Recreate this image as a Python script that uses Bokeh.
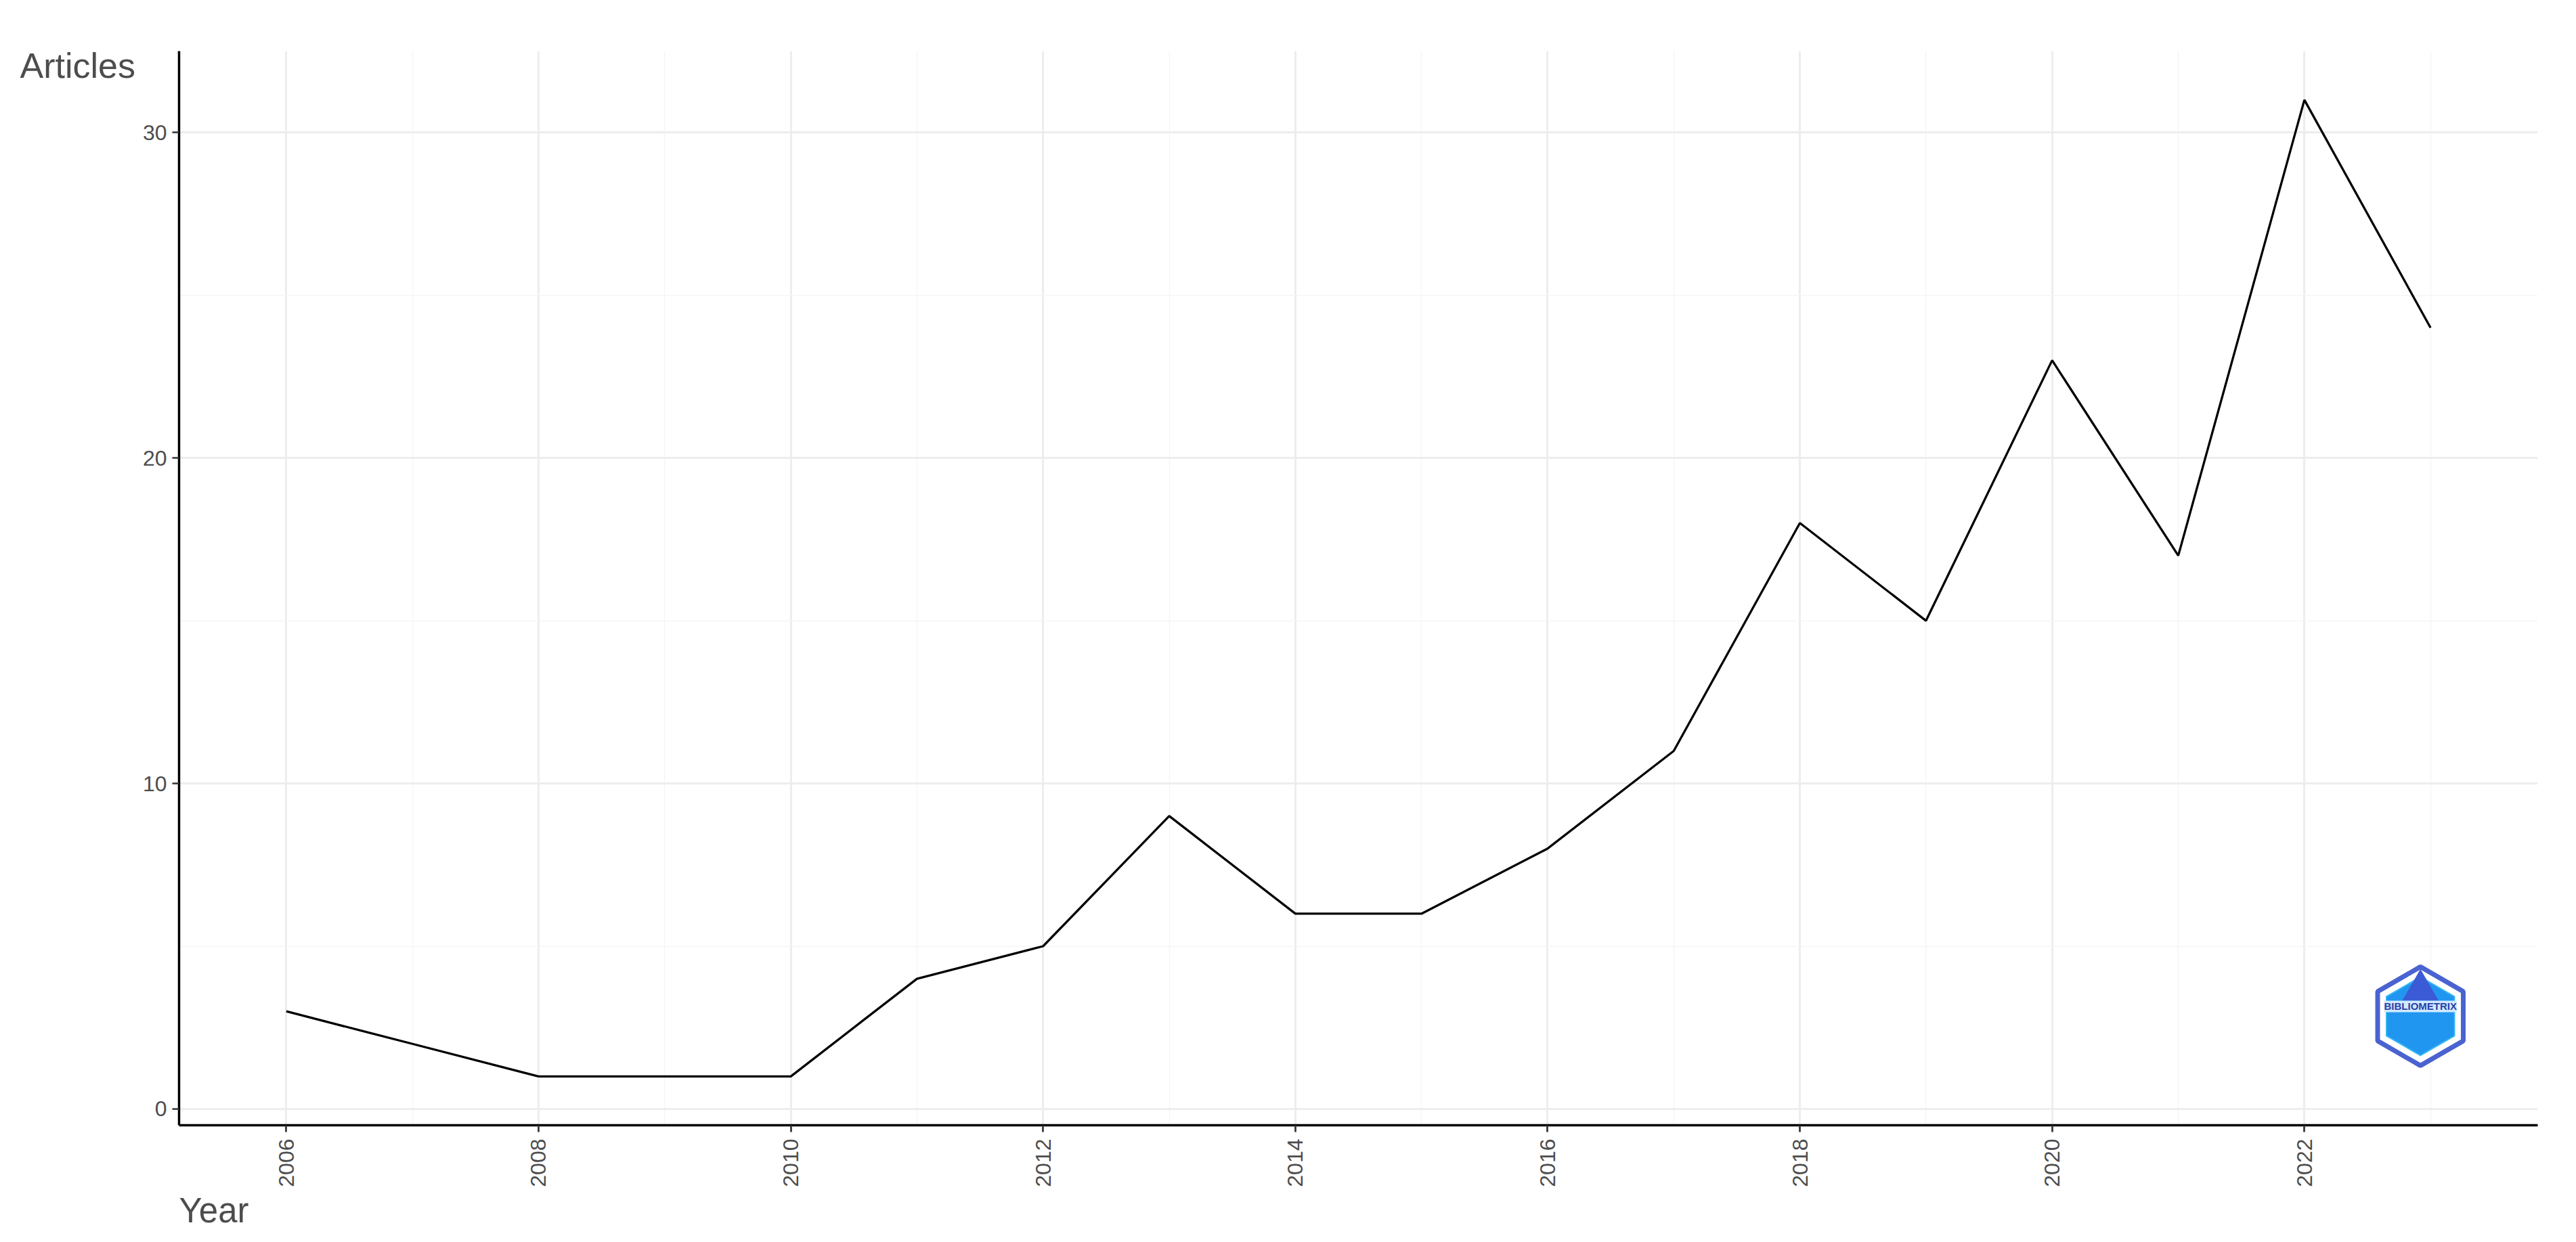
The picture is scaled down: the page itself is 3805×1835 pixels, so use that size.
import numpy as np
from bokeh.plotting import figure
from bokeh.models import Range1d, FixedTicker, Title, ColumnDataSource
from bokeh.embed import file_html
from bokeh.resources import INLINE
from bokeh.core.properties import value

years = [2006, 2007, 2008, 2009, 2010, 2011, 2012, 2013, 2014, 2015,
         2016, 2017, 2018, 2019, 2020, 2021, 2022, 2023]
articles = [3, 2, 1, 1, 1, 4, 5, 9, 6, 6, 8, 11, 18, 15, 23, 17, 31, 24]

x_major = [2006, 2008, 2010, 2012, 2014, 2016, 2018, 2020, 2022]
x_minor = [2005, 2007, 2009, 2011, 2013, 2015, 2017, 2019, 2021, 2023]
y_major = [0, 10, 20, 30]
y_minor = [5, 15, 25]

x_title = "Year"
y_title = "Articles"
logo_text = "BIBLIOMETRIX"

FONT = "Liberation Sans"
W, H = 3800, 1830

xspan = max(years) - min(years)
yspan = max(articles) - min(articles)
p = figure(width=W, height=H, output_backend="svg", toolbar_location=None,
           x_range=Range1d(min(years) - 0.05 * xspan, max(years) + 0.05 * xspan),
           y_range=Range1d(min(articles) - 0.05 * yspan, max(articles) + 0.05 * yspan),
           min_border_left=264, min_border_right=52, min_border_top=75, min_border_bottom=168)
p.outline_line_color = None
p.background_fill_color = "white"
p.border_fill_color = "white"

p.xaxis.ticker = FixedTicker(ticks=x_major, minor_ticks=x_minor)
p.yaxis.ticker = FixedTicker(ticks=y_major, minor_ticks=y_minor)

for ax in (p.xaxis[0], p.yaxis[0]):
    ax.axis_line_color = "black"
    ax.axis_line_width = 3.5
    ax.major_tick_line_color = "#333333"
    ax.major_tick_line_width = 2.7
    ax.major_tick_out = 10
    ax.major_tick_in = 0
    ax.minor_tick_line_color = None
    ax.major_label_text_font = FONT
    ax.major_label_text_color = "#4D4D4D"
    ax.major_label_text_font_size = "32px"
p.yaxis.major_label_standoff = 8
p.xaxis.major_label_standoff = 10
p.xaxis.major_label_orientation = np.pi / 2

for g in (p.xgrid[0], p.ygrid[0]):
    g.grid_line_color = "#EDEDED"
    g.grid_line_width = 3
    g.minor_grid_line_color = "#F5F5F5"
    g.minor_grid_line_width = 1.5

src = ColumnDataSource(dict(x=years, y=articles))
p.line("x", "y", source=src, line_color="black", line_width=3.3)

# logo (decoration)
LOGO_X, LOGO_Y = 2022.92, 2.85
p.scatter([LOGO_X], [LOGO_Y], marker="hex", size=146, angle=np.pi / 2,
          fill_color="white", line_color="#4A63D0", line_width=7)
p.scatter([LOGO_X], [LOGO_Y], marker="hex", size=116, angle=np.pi / 2,
          fill_color="#2196F0", line_color="#36B8F2", line_width=2)
p.scatter([LOGO_X], [LOGO_Y + 0.8], marker="triangle", size=54,
          fill_color="#3B5BD6", line_color=None)
p.text([LOGO_X], [LOGO_Y + 0.3], text=[logo_text], text_font=value(FONT),
       text_font_size="15px", text_font_style="bold", text_color="#2A3FA8",
       text_align="center", text_baseline="middle",
       background_fill_color="#CFEAFF")

# axis titles (ggplot style: horizontal, at the ends of the axes)
p.title.text = y_title
p.title.align = "left"
p.title.offset = -235
p.title.standoff = -100
p.title.text_font = FONT
p.title.text_font_size = "52px"
p.title.text_font_style = "normal"
p.title.text_color = "#4D4D4D"

p.add_layout(Title(text=x_title, align="left", offset=0, standoff=6,
                   vertical_align="top", text_font=FONT, text_font_size="51px",
                   text_font_style="normal", text_color="#4D4D4D"), "below")

open("out.html", "w").write(file_html(p, INLINE))
